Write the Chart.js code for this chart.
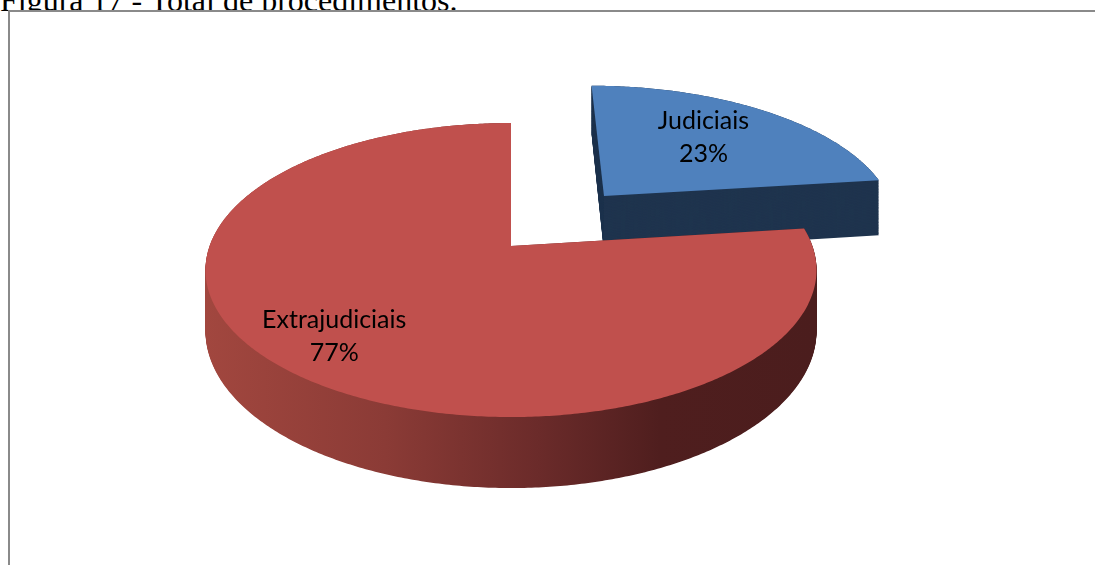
<!DOCTYPE html>
<html lang="pt">
<head>
<meta charset="utf-8">
<title>Total de procedimentos</title>
<script src="https://cdn.jsdelivr.net/npm/chart.js"></script>
<style>
  html, body { margin: 0; padding: 0; background: #fff; overflow: hidden; }
  body { position: relative; width: 1095px; height: 565px; }
  #caption {
    position: absolute; left: 0; top: -16px;
    font-family: "Liberation Serif", "Times New Roman", serif;
    font-size: 32px; line-height: 32px;
    color: #000; white-space: nowrap;
  }
  #frame {
    position: absolute; left: 8px; top: 10px;
    width: 1100px; height: 570px;
    border: 2px solid #8a8a8a; background: #fff;
  }
  #chartBox { position: relative; width: 1085px; height: 553px; }
</style>
</head>
<body>
<div id="caption">Figura 17 - Total de procedimentos.</div>
<div id="frame"><div id="chartBox"><canvas id="myChart"></canvas></div></div>
<script>
const categories = ['Judiciais', 'Extrajudiciais'];
const shares = [23, 77];

// the pie lies on a tilted plane seen in perspective (back further away)
const view = {
    x0: 501, y0: 234,          // canvas position of the pie centre
    ax: 0.9866, ay: 0.4684,    // horizontal / vertical scale
    k: -0.000535,              // perspective strength
    depth: 59.4                // thickness of the pie
};

function project(u, v) {
    const w = 1 + view.k * v;
    return { x: view.x0 + view.ax * u / w, y: view.y0 + view.ay * v / w, d: view.depth / w };
}

// side walls: flat navy for the blue slice, shaded red for the other one
function sideFill(ctx, i) {
    if (i === 0) return '#1f344e';
    const g = ctx.createLinearGradient(192, 0, 803, 0);
    g.addColorStop(0, '#a2473f');
    g.addColorStop(0.3, '#8b3b36');
    g.addColorStop(0.55, '#6b2b2a');
    g.addColorStop(0.75, '#4f1e1e');
    g.addColorStop(1, '#4b1d1d');
    return g;
}

// outline of one arc element (tip + rim), same offset rule as ArcElement.draw
function sliceShape(arc) {
    const { startAngle, endAngle, outerRadius, circumference } = arc;
    const offset = (arc.options.offset || 0) / 4;
    const half = (startAngle + endAngle) / 2;
    const fix = 1 - Math.sin(Math.min(Math.PI, circumference || 0));
    const shift = offset + offset * fix;
    const tx = Math.cos(half) * shift;
    const ty = Math.sin(half) * shift;
    const pts = [project(tx, ty)];
    const steps = Math.max(8, Math.ceil(circumference / 0.01));
    for (let s = 0; s <= steps; s++) {
        const a = startAngle + (endAngle - startAngle) * s / steps;
        pts.push(project(tx + Math.cos(a) * outerRadius, ty + Math.sin(a) * outerRadius));
    }
    return { pts, tx, ty, half, outerRadius };
}

function fillShape(ctx, pts, t) {
    ctx.beginPath();
    pts.forEach((p, n) => {
        const y = p.y + p.d * t;
        if (n === 0) ctx.moveTo(p.x, y); else ctx.lineTo(p.x, y);
    });
    ctx.closePath();
    ctx.fill();
}

const pie3d = {
    id: 'pie3d',
    beforeDatasetsDraw(chart) {
        const ctx = chart.ctx;
        const meta = chart.getDatasetMeta(0);
        const slices = meta.data.map((arc, i) => Object.assign({ i, arc }, sliceShape(arc)));
        slices.sort((a, b) => a.pts[0].y - b.pts[0].y);   // back to front
        ctx.save();
        slices.forEach(s => {
            ctx.fillStyle = sideFill(ctx, s.i);
            for (let t = 1; t > 0; t -= 1 / 90) fillShape(ctx, s.pts, t);
            ctx.fillStyle = s.arc.options.backgroundColor;
            fillShape(ctx, s.pts, 0);
        });
        ctx.restore();
        return false;
    },
    afterDraw(chart, args, opts) {
        const ctx = chart.ctx;
        const meta = chart.getDatasetMeta(0);
        const total = shares.reduce((a, b) => a + b, 0);
        ctx.save();
        ctx.font = opts.font;
        ctx.fillStyle = '#000';
        ctx.textAlign = 'center';
        ctx.textBaseline = 'middle';
        meta.data.forEach((arc, i) => {
            const s = sliceShape(arc);
            const f = arc.options.offset ? 0.6 : 0.8;
            const p = project(s.tx + Math.cos(s.half) * s.outerRadius * f,
                              s.ty + Math.sin(s.half) * s.outerRadius * f);
            ctx.fillText(categories[i], p.x, p.y - 21);
            ctx.fillText(Math.round(shares[i] / total * 100) + '%', p.x, p.y + 12);
        });
        ctx.restore();
    }
};

config = {
    type: 'pie',
    data: {
        labels: categories,
        datasets: [{
            data: shares,
            backgroundColor: ['#4f81bd', '#c0504d'],
            borderWidth: 0,
            offset: [600, 0]
        }]
    },
    options: {
        responsive: true,
        maintainAspectRatio: false,
        animation: false,
        events: [],
        radius: 305.5,
        cutout: '0%',   // keep as a percentage, the large offset leaves no room otherwise
        plugins: {
            legend: { display: false },
            tooltip: { enabled: false },
            pie3d: { font: '25px Lato, "Open Sans", sans-serif' }
        }
    },
    plugins: [pie3d]
};

function buildChart() {
    const ctx = document.getElementById('myChart').getContext('2d');
    return new Chart(ctx, config);
}

buildChart();
</script>
</body>
</html>
